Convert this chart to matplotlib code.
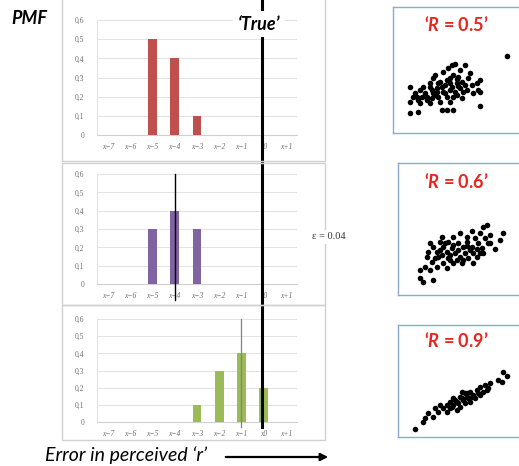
import matplotlib
matplotlib.use("Agg")
import matplotlib.pyplot as plt
from matplotlib.patches import Rectangle, FancyArrowPatch
from matplotlib.transforms import blended_transform_factory
import numpy as np

W, H = 519, 466

# ---------------- data ----------------
categories = ["x\u22127", "x\u22126", "x\u22125", "x\u22124", "x\u22123", "x\u22122", "x\u22121", "x0", "x+1"]
yticks = [0, 0.1, 0.2, 0.3, 0.4, 0.5, 0.6]
ytick_labels = ["0", "0,1", "0,2", "0,3", "0,4", "0,5", "0,6"]
pmf_r05 = [0, 0, 0.5, 0.4, 0.1, 0, 0, 0, 0]
pmf_r06 = [0, 0, 0.3, 0.4, 0.3, 0, 0, 0, 0]
pmf_r09 = [0, 0, 0, 0, 0.1, 0.3, 0.4, 0.2, 0]
true_index = 7
mode_r06 = 3
mode_r09 = 6
eps_label = "\u03b5 = 0.04"
scatter_titles = [r"$\mathbfit{R}$ = 0.5", r"$\mathbfit{R}$ = 0.6", r"$\mathbfit{R}$ = 0.9"]

# scatter clouds (arbitrary units, y grows downward)
s05_x = [320, 155, 165, 195, 145, 180, 210, 130, 105, 100, 160, 175, 240, 230, 215, 30, 70, 90, 120, 140,
         150, 170, 185, 125, 110, 95, 60, 45, 75, 100, 130, 150, 165, 180, 190, 200, 235, 40, 55, 30,
         80, 95, 115, 140, 160, 185, 60, 90, 120, 150, 125, 140, 160, 30, 55, 240, 240, 220, 170, 135,
         110, 80, 65, 50, 150, 170, 115, 135, 155, 175, 90, 105, 195, 205]
s05_y = [18, 45, 42, 45, 55, 60, 68, 65, 75, 85, 75, 80, 90, 100, 105, 110, 110, 100, 95, 90,
         100, 100, 95, 110, 115, 120, 120, 130, 130, 130, 125, 120, 125, 115, 125, 120, 120, 140, 150, 155,
         150, 145, 140, 140, 140, 145, 160, 160, 155, 155, 180, 180, 180, 188, 185, 168, 125, 130, 135, 130,
         125, 140, 140, 140, 85, 88, 100, 105, 110, 108, 110, 135, 105, 85]
s06_x = [260, 250, 215, 180, 240, 270, 310, 125, 160, 200, 225, 255, 300, 90, 120, 145, 175, 200, 235, 265,
         100, 130, 155, 190, 215, 245, 285, 85, 110, 140, 165, 195, 220, 250, 115, 145, 180, 205, 230, 95,
         130, 160, 185, 220, 75, 110, 140, 60, 90, 60, 70, 100, 270, 240, 150, 175, 120, 190, 105, 80,
         135, 160, 210, 230, 125, 170, 150, 200]
s06_y = [45, 50, 62, 68, 70, 75, 70, 80, 80, 80, 85, 85, 90, 100, 95, 95, 100, 95, 100, 100,
         110, 110, 115, 112, 110, 115, 118, 125, 125, 125, 130, 130, 128, 130, 140, 145, 140, 145, 140, 155,
         160, 160, 160, 160, 170, 170, 175, 180, 180, 205, 215, 210, 100, 130, 135, 120, 120, 150, 145, 140,
         100, 105, 120, 118, 135, 150, 150, 108]
s09_x = [310, 320, 295, 305, 270, 255, 240, 265, 230, 210, 250, 195, 220, 240, 180, 205, 225, 165, 190, 210,
         150, 175, 195, 140, 160, 120, 180, 130, 150, 105, 115, 140, 85, 100, 75, 70, 45, 170, 160, 200,
         185, 235, 260, 215, 170, 185, 155, 200]
s09_y = [65, 78, 90, 95, 100, 105, 110, 115, 120, 125, 125, 130, 135, 135, 140, 145, 145, 150, 150, 155,
         155, 160, 160, 165, 165, 165, 170, 175, 175, 175, 185, 185, 190, 200, 205, 215, 238, 180, 145, 140,
         125, 130, 120, 140, 155, 145, 170, 130]

# ---------------- figure ----------------
fig = plt.figure(figsize=(W / 100, H / 100), dpi=100)
fig.patch.set_facecolor("white")


def rect(x0, y0, x1, y1):
    return [x0 / W, 1 - y1 / H, (x1 - x0) / W, (y1 - y0) / H]


def frame(x0, y0, x1, y1, color, lw=1.0):
    r = Rectangle((x0 / W, 1 - y1 / H), (x1 - x0) / W, (y1 - y0) / H,
                  transform=fig.transFigure, fill=False, edgecolor=color, linewidth=lw, zorder=0)
    fig.patches.append(r)


# outer frames of left charts
frame(62, -2, 325, 161, "#d0d0d0")
frame(62, 163, 325, 305, "#d0d0d0")
frame(62, 305, 325, 440, "#d0d0d0")

bar_specs = [
    (pmf_r05, "#c0504d", (97, 20, 297, 135)),
    (pmf_r06, "#8064a2", (97, 174, 297, 284)),
    (pmf_r09, "#9bbb59", (97, 319, 297, 422)),
]
axes = []
xpos = np.arange(len(categories))
for vals, col, box in bar_specs:
    ax = fig.add_axes(rect(*box))
    ax.bar(xpos, vals, width=0.4, color=col, zorder=3)
    ax.set_xlim(-0.5, len(categories) - 0.5)
    ax.set_ylim(0, 0.6)
    ax.set_yticks(yticks)
    ax.set_yticklabels(ytick_labels, fontsize=5.5, family="Liberation Serif", color="#707070")
    ax.set_xticks(xpos)
    ax.set_xticklabels(categories, fontsize=5.5, family="Liberation Serif", style="italic", color="#707070")
    ax.tick_params(length=0, pad=6)
    ax.tick_params(axis="y", pad=9)
    ax.grid(axis="y", color="#e3e3e3", linewidth=0.7, zorder=0)
    for s in ["top", "right"]:
        ax.spines[s].set_visible(False)
    ax.spines["left"].set_color("#e3e3e3")
    ax.spines["bottom"].set_color("#d0d0d0")
    ax.patch.set_alpha(0)
    axes.append(ax)

ax1, ax2, ax3 = axes

# mode markers
ax2.plot([mode_r06, mode_r06], [-0.087, 0.6], color="black", lw=1.0, clip_on=False, zorder=5)
ax3.plot([mode_r09, mode_r09], [-0.03, 0.6], color="#808080", lw=0.9, clip_on=False, zorder=5)

# thick "True" line spanning all three charts
tr = blended_transform_factory(ax3.transData, fig.transFigure)
ax3.plot([true_index - 0.07, true_index - 0.07], [1 - 427 / H, 1.0], color="black", lw=2.2,
         transform=tr, clip_on=False, zorder=6)
fig.text(259 / W, 1 - 24 / H, "\u2018True\u2019", ha="center", va="center", fontsize=13,
         fontweight="bold", style="italic", family="Lato",
         bbox=dict(facecolor="white", edgecolor="none", pad=3.5), zorder=10)

fig.text(11 / W, 1 - 18 / H, "PMF", ha="left", va="center", fontsize=13, fontweight="bold",
         style="italic", family="Lato")

fig.text(312 / W, 1 - 237 / H, eps_label, ha="left", va="center", fontsize=7.5,
         family="Liberation Serif", color="#333333",
         bbox=dict(facecolor="white", edgecolor="none", pad=1.5), zorder=10)

fig.text(45 / W, 1 - 455 / H, "Error in perceived \u2018r\u2019", ha="left", va="center",
         fontsize=14, style="italic", family="Lato")
fig.add_artist(FancyArrowPatch((223 / W, 1 - 457 / H), (331 / W, 1 - 457 / H),
                               transform=fig.transFigure, arrowstyle="-|>",
                               mutation_scale=11, color="black", lw=1.6))

# scatter panels: (x, y, box, zoom-origin)
scatter_specs = [
    (s05_x, s05_y, (393, 7, 521, 133), (400, 50)),
    (s06_x, s06_y, (398, 163, 521, 295), (400, 210)),
    (s09_x, s09_y, (398, 325, 521, 437), (400, 350)),
]
plt.rcParams["mathtext.fontset"] = "custom"
plt.rcParams["mathtext.bfit"] = "Lato:bold:italic"
for (sx, sy, box, org), title in zip(scatter_specs, scatter_titles):
    x0, y0, x1, y1 = box
    ax = fig.add_axes(rect(x0, y0, x1, y1))
    ax.scatter(sx, sy, s=16, color="black", linewidths=0)
    ax.set_xlim((x0 - org[0]) * 3, (x1 - org[0]) * 3)
    ax.set_ylim((y1 - org[1]) * 3, (y0 - org[1]) * 3)
    ax.set_xticks([])
    ax.set_yticks([])
    for s in ax.spines.values():
        s.set_color("#8eaad0")
        s.set_linewidth(1.0)
    ax.spines["right"].set_visible(False)
    cx = (456 - x0) / (x1 - x0)
    ax.text(cx, 0.86, "\u2018" + title + "\u2019", transform=ax.transAxes, ha="center", va="center",
            fontsize=13, fontweight="bold", color="#e8251f", family="Lato")

fig.savefig("out.png", dpi=100, facecolor="white")
